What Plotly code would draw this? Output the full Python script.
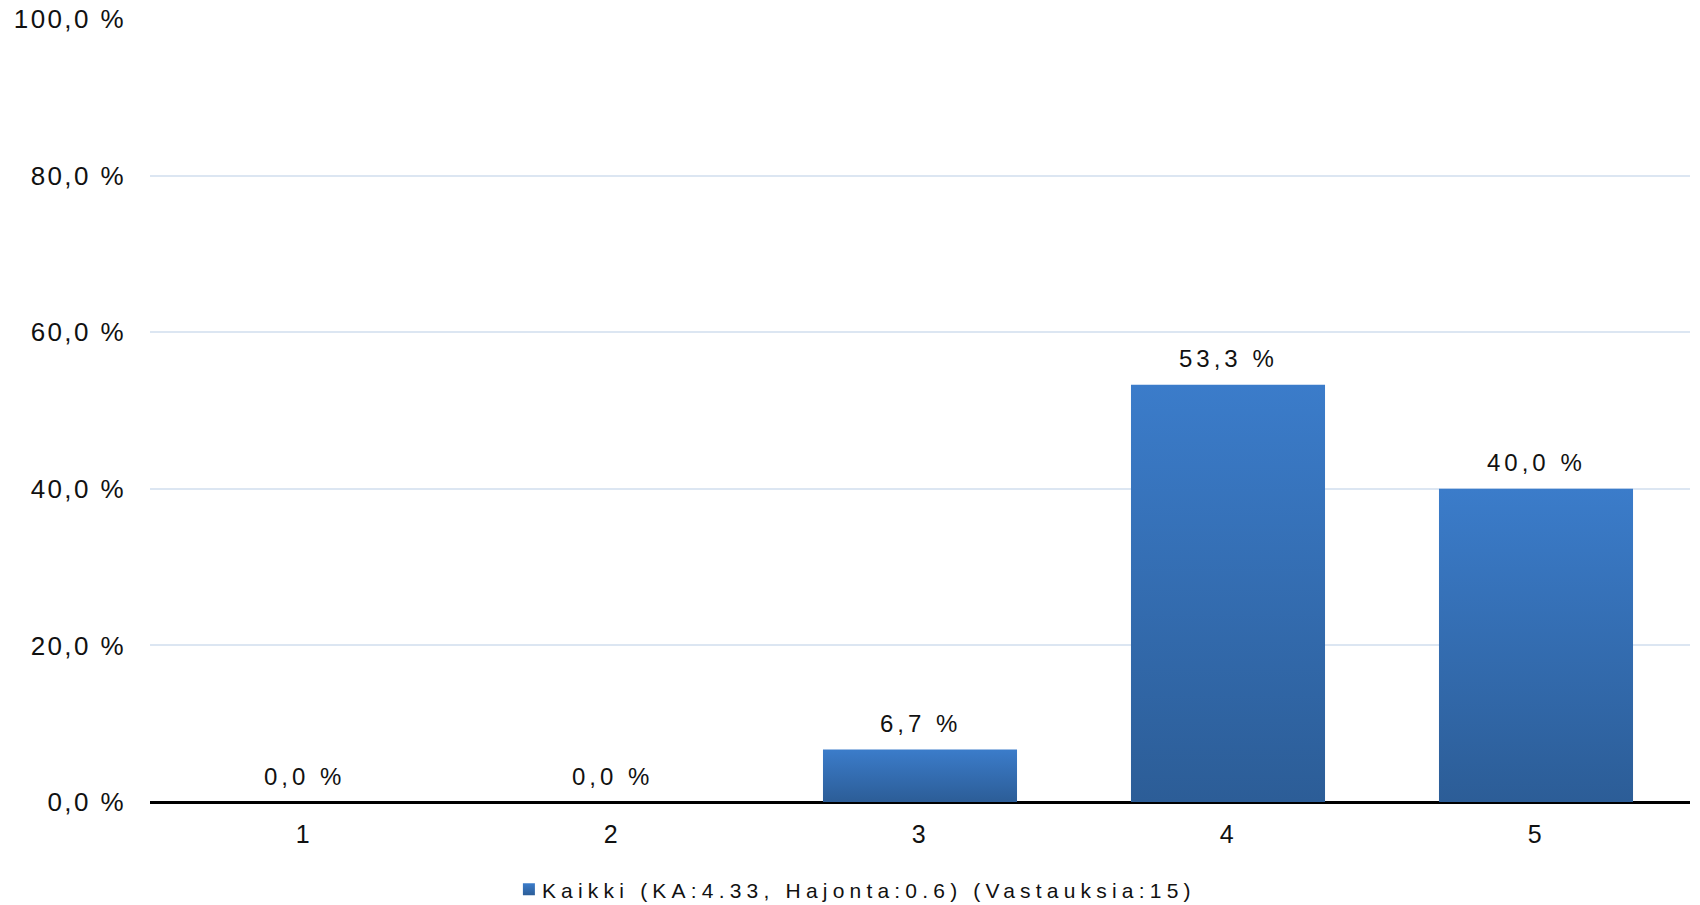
import plotly.graph_objects as go

categories = ["1", "2", "3", "4", "5"]
values = [0.0, 0.0, 6.7, 53.3, 40.0]
series_name = "Kaikki (KA:4.33, Hajonta:0.6) (Vastauksia:15)"
y_ticks = [0, 20, 40, 60, 80, 100]


def pct(v):
    return f"{v:.1f}".replace(".", ",") + " %"


FONT = "Liberation Sans, Arial, sans-serif"

fig = go.Figure()
fig.add_trace(go.Bar(
    x=categories, y=values, name=series_name,
    width=0.63,
    marker=dict(color="#346DB0", line=dict(width=0)),
    showlegend=True,
))

for i, v in enumerate(values):
    fig.add_annotation(
        x=i, y=v, text=pct(v),
        showarrow=False, yanchor="middle", yshift=26,
        font=dict(size=24, color="#111111"),
    )

fig.update_layout(
    width=1700, height=905,
    margin=dict(l=150, r=10, t=19, b=103, autoexpand=False),
    paper_bgcolor="white", plot_bgcolor="white",
    font=dict(family=FONT, size=24, color="#111111"),
    showlegend=True,
    legend=dict(orientation="h", x=0.46, xanchor="center", y=-0.112, yanchor="middle",
                font=dict(size=21, color="#111111"),
                itemwidth=30, traceorder="normal"),
    xaxis=dict(type="category", range=[-0.5, 4.5], showgrid=False, showline=True,
               linecolor="black", linewidth=2, automargin=False,
               ticks="", tickfont=dict(size=25), ticklabelstandoff=9),
    yaxis=dict(range=[0, 100], tickmode="array", tickvals=y_ticks,
               ticktext=[pct(t) for t in y_ticks], automargin=False,
               showgrid=True, gridcolor="#DCE6F2", gridwidth=1.5,
               zeroline=True, zerolinecolor="black", zerolinewidth=2,
               ticks="", ticklabelstandoff=23, tickfont=dict(size=26)),
)

post = """
document.body.style.margin = '0';
document.body.style.overflow = 'hidden';
var gd = document.getElementById('{plot_id}');
var ns = 'http://www.w3.org/2000/svg';
var hs = document.createElementNS(ns, 'svg');
hs.setAttribute('width', '0'); hs.setAttribute('height', '0');
hs.style.position = 'absolute'; hs.style.left = '0'; hs.style.top = '0';
var defs = document.createElementNS(ns, 'defs');
var lg = document.createElementNS(ns, 'linearGradient');
lg.setAttribute('id', 'barGrad');
lg.setAttribute('x1', '0'); lg.setAttribute('y1', '0');
lg.setAttribute('x2', '0'); lg.setAttribute('y2', '1');
[['0', '#3B7CCA'], ['1', '#2C5D97']].forEach(function(p){
  var st = document.createElementNS(ns, 'stop');
  st.setAttribute('offset', p[0]); st.setAttribute('stop-color', p[1]);
  lg.appendChild(st);
});
defs.appendChild(lg); hs.appendChild(defs); document.body.appendChild(hs);
var s = document.createElement('style');
s.textContent = '.ytick text { letter-spacing: 2.4px !important; }' +
  '.xtick text { letter-spacing: 2.4px !important; }' +
  '.annotation-text { letter-spacing: 4px !important; }' +
  '.legendtext { letter-spacing: 5.2px !important; transform: translateX(-7px); }' +
  '.barlayer .point path { fill: url(#barGrad) !important; }' +
  '.legendpoints path { fill: url(#barGrad) !important; }';
document.head.appendChild(s);
Plotly.relayout(gd, {'font.family': 'Liberation Sans, Arial'});
"""
fig.write_html("out.html", post_script=post, config={"displayModeBar": False})
